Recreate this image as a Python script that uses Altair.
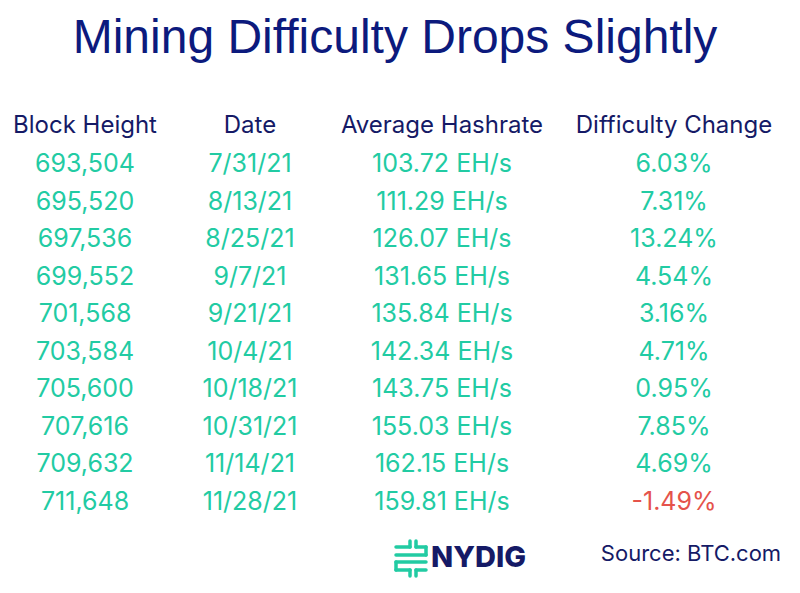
import altair as alt
import pandas as pd

# ---- data ----
title_text = "Mining Difficulty Drops Slightly"
headers = ["Block Height", "Date", "Average Hashrate", "Difficulty Change"]
block_heights = [693504, 695520, 697536, 699552, 701568, 703584, 705600, 707616, 709632, 711648]
dates = ["7/31/21", "8/13/21", "8/25/21", "9/7/21", "9/21/21", "10/4/21", "10/18/21", "10/31/21", "11/14/21", "11/28/21"]
hashrates = [103.72, 111.29, 126.07, 131.65, 135.84, 142.34, 143.75, 155.03, 162.15, 159.81]
difficulty_changes = [6.03, 7.31, 13.24, 4.54, 3.16, 4.71, 0.95, 7.85, 4.69, -1.49]
brand = "NYDIG"
source_text = "Source: BTC.com"

NAVY = "#151a66"
TITLE_BLUE = "#0c1a7d"
TEAL = "#22cba3"
RED = "#e5534b"
FONT = "Inter"

header_df = pd.DataFrame({"col": list(range(4)), "row": [0] * 4, "text": headers})

cells = []
for i, (b, d, h, c) in enumerate(zip(block_heights, dates, hashrates, difficulty_changes)):
    r = i + 1
    cells.append({"col": 0, "row": r, "text": f"{b:,}", "kind": "pos"})
    cells.append({"col": 1, "row": r, "text": d, "kind": "pos"})
    cells.append({"col": 2, "row": r, "text": f"{h:.2f} EH/s", "kind": "pos"})
    cells.append({"col": 3, "row": r, "text": f"{c:.2f}%", "kind": "neg" if c < 0 else "pos"})
cell_df = pd.DataFrame(cells)

xs = alt.Scale(domain=[0, 1, 2, 3], range=[77, 242, 434, 666], nice=False, zero=False)
ys = alt.Scale(domain=[0, 1, 10], range=[118, 156, 494], nice=False, zero=False)

X = alt.X("col:Q", scale=xs, axis=None)
Y = alt.Y("row:Q", scale=ys, axis=None)

header_layer = alt.Chart(header_df).mark_text(
    font=FONT, fontSize=24, color=NAVY, align="center", baseline="middle"
).encode(x=X, y=Y, text="text:N")

cell_layer = alt.Chart(cell_df).mark_text(
    font=FONT, fontSize=25, align="center", baseline="middle"
).encode(
    x=X, y=Y, text="text:N",
    color=alt.Color("kind:N", scale=alt.Scale(domain=["pos", "neg"], range=[TEAL, RED]), legend=None),
)

title_layer = alt.Chart(pd.DataFrame({"t": [title_text]})).mark_text(
    font="Liberation Sans", fontSize=48, color=TITLE_BLUE, align="center", baseline="alphabetic"
).encode(x=alt.value(387), y=alt.value(45), text="t:N")

source_layer = alt.Chart(pd.DataFrame({"t": [source_text]})).mark_text(
    font=FONT, fontSize=22, color=NAVY, align="center", baseline="middle"
).encode(x=alt.value(683), y=alt.value(546), text="t:N")

brand_layer = alt.Chart(pd.DataFrame({"t": [brand]})).mark_text(
    font=FONT, fontSize=29, fontWeight=800, color=NAVY, align="left", baseline="middle"
).encode(x=alt.value(423), y=alt.value(550), text="t:N")

# logo icon segments (decorative)
segs = [
    (388, 402, 539, 539), (408, 418, 539, 539),
    (402, 402, 533, 539), (408, 408, 533, 539),
    (418, 418, 539, 547),
    (388, 418, 547, 547), (388, 418, 554, 554),
    (388, 388, 554, 562),
    (388, 402, 562, 562), (408, 418, 562, 562),
    (402, 402, 562, 568), (408, 408, 562, 568),
]
icon_layers = []
for x1, x2, y1, y2 in segs:
    icon_layers.append(
        alt.Chart(pd.DataFrame({"a": [0]})).mark_rule(color=TEAL, strokeWidth=3.5, strokeCap="round").encode(
            x=alt.value(x1), x2=alt.value(x2), y=alt.value(y1), y2=alt.value(y2)
        )
    )

chart = alt.layer(
    title_layer, header_layer, cell_layer, source_layer, brand_layer, *icon_layers
).properties(
    width=784, height=577, padding=0,
    autosize=alt.AutoSizeParams(type="fit", contains="padding"),
    background="white",
).configure_view(stroke=None)

chart.save("out.html", embed_options={"renderer": "svg", "actions": False})
